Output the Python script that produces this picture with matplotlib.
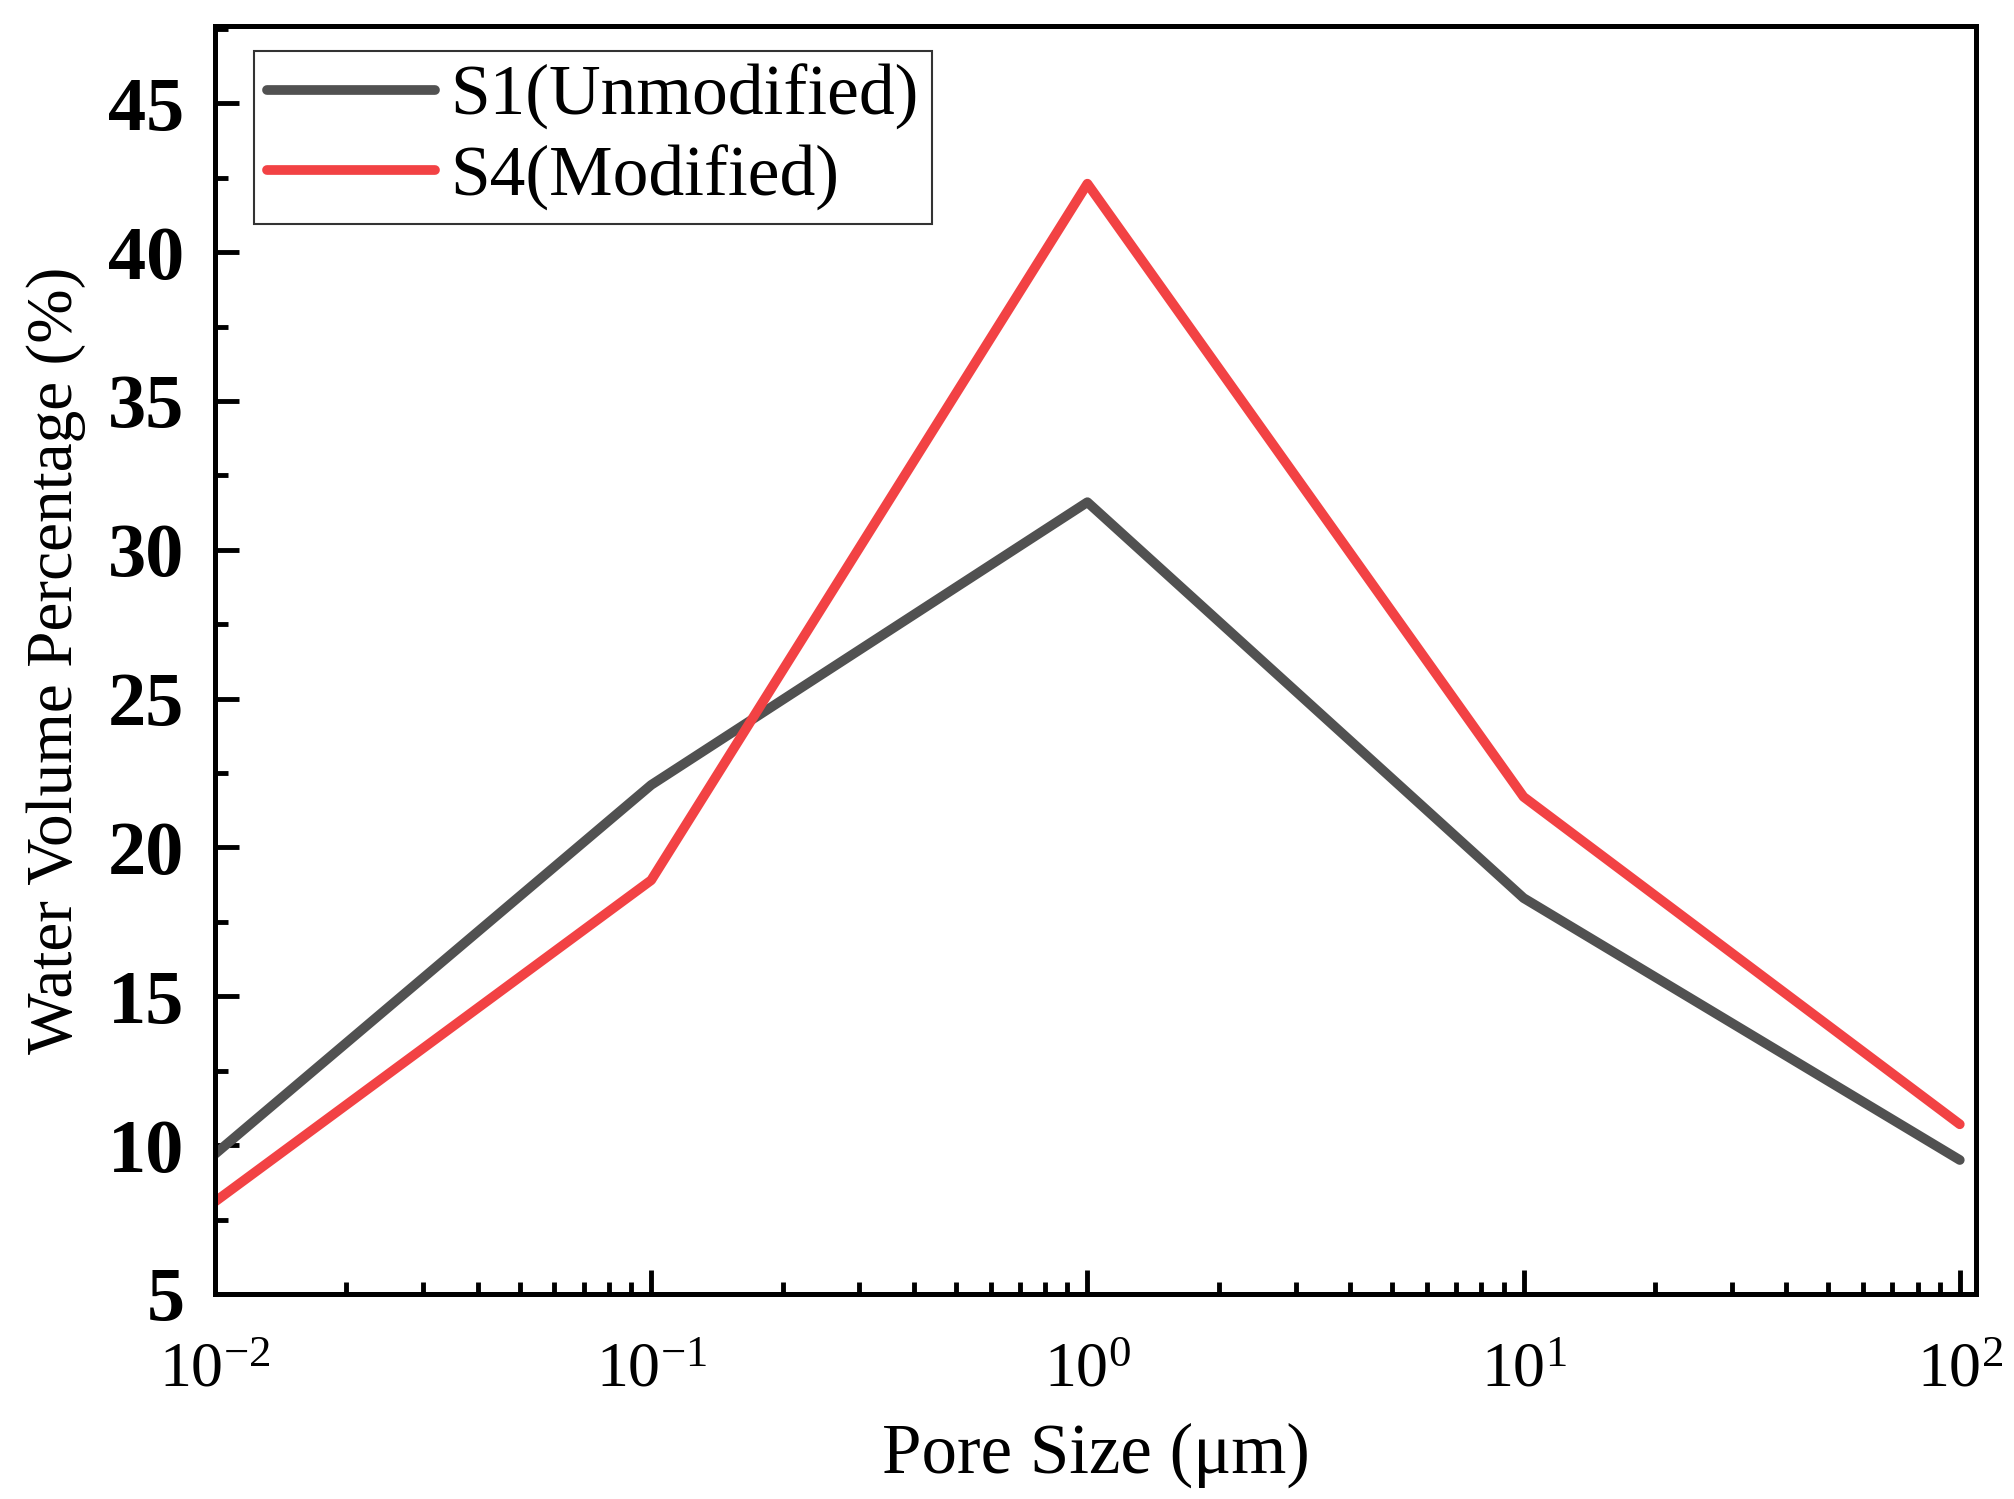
import matplotlib
matplotlib.use("Agg")
from matplotlib import pyplot as plt
from matplotlib.ticker import AutoMinorLocator, LogLocator, MultipleLocator
import numpy as np

# pore size classes (um) and water volume percentage (%)
pore_size = [0.01, 0.1, 1, 10, 100]
s1_unmodified = [9.7, 22.1, 31.6, 18.3, 9.5]
s4_modified = [8.1, 18.9, 42.3, 21.7, 10.7]
labels = ["S1(Unmodified)", "S4(Modified)"]

plt.rcParams['font.family'] = ['Liberation Serif', 'DejaVu Serif']
plt.rcParams['mathtext.fontset'] = 'custom'
plt.rcParams['mathtext.rm'] = 'Liberation Serif'
plt.rcParams['mathtext.it'] = 'Liberation Serif:italic'
plt.rcParams['mathtext.bf'] = 'Liberation Serif:bold'
plt.rcParams['axes.unicode_minus'] = False

fig = plt.figure(figsize=(20.15, 14.99), dpi=100)
ax = fig.add_axes([0.1067, 0.1368, 0.874, 0.8459])

ax.plot(pore_size, s1_unmodified, color='#515151', lw=7, label=labels[0],
        solid_capstyle='round', solid_joinstyle='round')
ax.plot(pore_size, s4_modified, color='#F24244', lw=7, label=labels[1],
        solid_capstyle='round', solid_joinstyle='round')

ax.set_xscale('log')
ax.set_xlim(0.01, 109)
ax.set_ylim(5, 47.6)
ax.yaxis.set_major_locator(MultipleLocator(5))
ax.yaxis.set_minor_locator(AutoMinorLocator(2))
ax.xaxis.set_major_locator(LogLocator(base=10, numticks=10))
ax.xaxis.set_minor_locator(LogLocator(base=10, subs=np.arange(2, 10), numticks=20))

for s in ax.spines.values():
    s.set_linewidth(3.6)

ax.tick_params(which='both', direction='in', top=False, right=False, width=3.5)
ax.tick_params(which='major', length=17)
ax.tick_params(which='minor', length=9)
ax.tick_params(axis='y', which='major', pad=22, labelsize=55)
ax.tick_params(axis='x', which='major', pad=35, labelsize=46)
for t in ax.get_yticklabels():
    t.set_fontweight('bold')

ax.set_xlabel('Pore Size (μm)', fontsize=51, labelpad=16)
ax.set_ylabel('Water Volume Percentage (%)', fontsize=47, labelpad=16)

leg = ax.legend(loc='upper left', bbox_to_anchor=(0.022, 0.980), borderaxespad=0,
                fontsize=51.5, frameon=True, fancybox=False, handlelength=2.35,
                handletextpad=0.22, borderpad=0.18, labelspacing=0.2)
leg.get_frame().set_edgecolor('black')
leg.get_frame().set_linewidth(1.5)

fig.savefig('out.png', dpi=100)
